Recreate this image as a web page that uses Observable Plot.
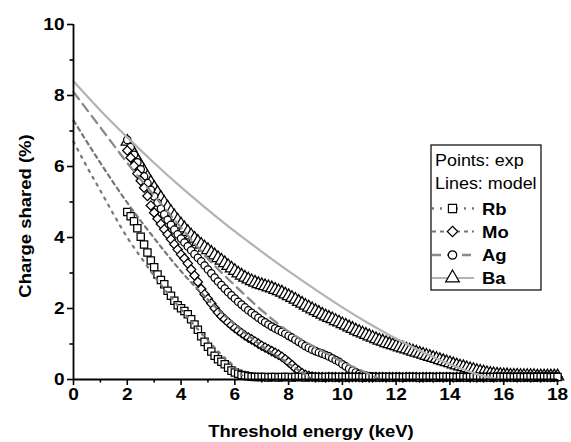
<!DOCTYPE html>
<html><head><meta charset="utf-8">
<script src="https://cdn.jsdelivr.net/npm/d3@7"></script>
<script src="https://cdn.jsdelivr.net/npm/@observablehq/plot@0.6"></script>
<style>
html,body{margin:0;padding:0;background:#fff;}
#chart{position:relative;width:571px;height:442px;font-family:"Liberation Sans",Arial,sans-serif;}
#chart svg.legend{position:absolute;left:0;top:0;pointer-events:none;}
</style></head><body><div id="chart"></div>
<script>
// Experimental threshold scan (keV)
const thresholdEnergy = [
  2,2.125,2.25,2.375,2.5,2.625,2.75,2.875,
  3,3.125,3.25,3.375,3.5,3.625,3.75,3.875,
  4,4.125,4.25,4.375,4.5,4.625,4.75,4.875,
  5,5.125,5.25,5.375,5.5,5.625,5.75,5.875,
  6,6.125,6.25,6.375,6.5,6.625,6.75,6.875,
  7,7.125,7.25,7.375,7.5,7.625,7.75,7.875,
  8,8.125,8.25,8.375,8.5,8.625,8.75,8.875,
  9,9.125,9.25,9.375,9.5,9.625,9.75,9.875,
  10,10.125,10.25,10.375,10.5,10.625,10.75,10.875,
  11,11.125,11.25,11.375,11.5,11.625,11.75,11.875,
  12,12.125,12.25,12.375,12.5,12.625,12.75,12.875,
  13,13.125,13.25,13.375,13.5,13.625,13.75,13.875,
  14,14.125,14.25,14.375,14.5,14.625,14.75,14.875,
  15,15.125,15.25,15.375,15.5,15.625,15.75,15.875,
  16,16.125,16.25,16.375,16.5,16.625,16.75,16.875,
  17,17.125,17.25,17.375,17.5,17.625,17.75,17.875,
  18
];
// Experimental charge shared (%)
const rbExp = [
  4.72,4.60,4.46,4.26,4.02,3.80,3.58,3.35,
  3.16,2.96,2.80,2.68,2.50,2.36,2.22,2.09,
  2.01,1.93,1.84,1.70,1.55,1.40,1.22,1.06,
  0.92,0.79,0.67,0.57,0.50,0.43,0.33,0.25,
  0.20,0.16,0.13,0.11,0.09,0.08,0.07,0.07,
  0.07,0.07,0.06,0.07,0.07,0.06,0.07,0.07,
  0.07,0.06,0.07,0.07,0.07,0.06,0.07,0.07,
  0.07,0.07,0.06,0.07,0.07,0.07,0.06,0.07,
  0.07,0.06,0.07,0.07,0.07,0.07,0.06,0.07,
  0.07,0.07,0.07,0.06,0.07,0.07,0.07,0.06,
  0.07,0.07,0.06,0.07,0.07,0.07,0.07,0.06,
  0.07,0.06,0.07,0.07,0.06,0.07,0.07,0.07,
  0.07,0.07,0.06,0.07,0.07,0.06,0.07,0.07,
  0.06,0.07,0.07,0.07,0.06,0.07,0.07,0.07,
  0.07,0.07,0.07,0.06,0.07,0.07,0.06,0.07,
  0.07,0.06,0.07,0.07,0.07,0.07,0.06,0.07,
  0.07
];
const moExp = [
  6.45,6.25,6.02,5.80,5.60,5.40,5.17,4.90,
  4.70,4.53,4.38,4.23,4.09,3.95,3.81,3.66,
  3.52,3.41,3.27,3.10,2.93,2.75,2.55,2.40,
  2.27,2.14,2.01,1.89,1.78,1.70,1.61,1.53,
  1.45,1.38,1.31,1.24,1.18,1.13,1.07,1.01,
  0.95,0.90,0.85,0.80,0.75,0.70,0.64,0.57,
  0.49,0.41,0.32,0.25,0.18,0.13,0.10,0.08,
  0.07,0.07,0.07,0.06,0.07,0.07,0.07,0.06,
  0.07,0.07,0.06,0.07,0.07,0.07,0.06,0.07,
  0.07,0.06,0.07,0.07,0.07,0.06,0.07,0.07,
  0.07,0.07,0.06,0.07,0.07,0.07,0.07,0.06,
  0.07,0.07,0.07,0.06,0.07,0.07,0.06,0.07,
  0.07,0.06,0.07,0.07,0.07,0.07,0.06,0.07,
  0.07,0.07,0.06,0.07,0.07,0.06,0.07,0.07,
  0.06,0.07,0.07,0.07,0.06,0.07,0.07,0.07,
  0.07,0.07,0.07,0.06,0.07,0.07,0.07,0.07,
  0.07
];
const agExp = [
  6.75,6.55,6.33,6.12,5.92,5.72,5.53,5.34,
  5.16,4.98,4.81,4.65,4.50,4.36,4.22,4.09,
  3.97,3.86,3.75,3.64,3.53,3.43,3.33,3.21,
  3.10,2.99,2.87,2.76,2.66,2.56,2.46,2.37,
  2.28,2.19,2.11,2.03,1.95,1.88,1.81,1.74,
  1.67,1.61,1.55,1.49,1.44,1.39,1.34,1.29,
  1.23,1.18,1.12,1.06,1.00,0.94,0.89,0.84,
  0.80,0.76,0.73,0.69,0.65,0.60,0.55,0.50,
  0.43,0.37,0.30,0.25,0.20,0.16,0.13,0.11,
  0.09,0.08,0.07,0.07,0.07,0.07,0.07,0.07,
  0.07,0.07,0.06,0.07,0.07,0.07,0.06,0.07,
  0.07,0.06,0.07,0.07,0.07,0.07,0.07,0.06,
  0.07,0.07,0.07,0.06,0.07,0.07,0.07,0.07,
  0.07,0.07,0.06,0.07,0.07,0.06,0.07,0.07,
  0.07,0.07,0.07,0.07,0.06,0.07,0.07,0.07,
  0.07,0.06,0.07,0.07,0.07,0.07,0.07,0.07,
  0.07
];
const baExp = [
  6.70,6.52,6.35,6.18,6.02,5.86,5.70,5.55,
  5.40,5.26,5.12,4.98,4.85,4.72,4.60,4.48,
  4.37,4.26,4.16,4.06,3.97,3.88,3.80,3.72,
  3.65,3.57,3.50,3.42,3.35,3.28,3.20,3.13,
  3.06,2.99,2.93,2.87,2.82,2.77,2.73,2.69,
  2.66,2.63,2.60,2.57,2.53,2.49,2.45,2.40,
  2.35,2.30,2.25,2.19,2.14,2.08,2.03,1.98,
  1.93,1.88,1.83,1.78,1.74,1.70,1.65,1.61,
  1.56,1.52,1.47,1.43,1.38,1.34,1.30,1.26,
  1.22,1.18,1.14,1.10,1.07,1.03,1.00,0.97,
  0.94,0.91,0.88,0.85,0.82,0.79,0.76,0.73,
  0.70,0.67,0.64,0.61,0.58,0.55,0.52,0.49,
  0.46,0.43,0.40,0.37,0.35,0.32,0.29,0.27,
  0.24,0.22,0.20,0.18,0.16,0.15,0.14,0.13,
  0.12,0.12,0.11,0.11,0.11,0.10,0.10,0.10,
  0.10,0.10,0.09,0.09,0.09,0.09,0.09,0.09,
  0.09
];
// Model curves
const rbModelEnergy = [0,0.5,1,1.5,2,2.5,3,3.5,4,4.5,5,5.5,6,6.4];
const rbModel      = [6.7,5.99,5.32,4.64,4.0,3.45,2.92,2.43,1.98,1.52,1.1,0.7,0.35,0];
const moModelEnergy = [0,1,2,3,4,5,6,7,8,8.5,8.9];
const moModel      = [7.3,6.1,4.98,3.98,3.05,2.25,1.55,0.95,0.45,0.2,0];
const agModelEnergy = [0,1,2,3,4,5,6,7,8,9,10,11,11.4];
const agModel      = [8.1,7.1,6.1,5.18,4.28,3.4,2.65,1.95,1.35,0.9,0.5,0.15,0];
const baModelEnergy = [0,1,2,3,4,5,6,7,8,9,10,11,12,13,14,15,15.8];
const baModel      = [8.4,7.58,6.82,6.1,5.42,4.78,4.17,3.6,3.05,2.53,2.03,1.57,1.15,0.77,0.43,0.15,0];

const xTicks = [0,2,4,6,8,10,12,14,16,18];
const xMinorTicks = [1,3,5,7,9,11,13,15,17];
const yTicks = [0,2,4,6,8,10];
const yMinorTicks = [1,3,5,7,9];
const seriesNames = ["Rb","Mo","Ag","Ba"];

const series = [
  {name:"Rb", exp:rbExp, mE:rbModelEnergy, m:rbModel, symbol:"square", d3sym:d3.symbolSquare, r:4.1, color:"#7a7a7a", width:2.3, dash:"2,6"},
  {name:"Mo", exp:moExp, mE:moModelEnergy, m:moModel, symbol:"diamond2", d3sym:d3.symbolDiamond2, r:4.2, color:"#777777", width:2.2, dash:"4,4"},
  {name:"Ag", exp:agExp, mE:agModelEnergy, m:agModel, symbol:"circle", d3sym:d3.symbolCircle, r:3.7, color:"#8a8a8a", width:2.3, dash:"9,6"},
  {name:"Ba", exp:baExp, mE:baModelEnergy, m:baModel, symbol:"triangle", d3sym:d3.symbolTriangle, r:4.6, color:"#b3b3b3", width:2.2, dash:null}
];

const expRows = s => s.exp.map((v,i) => ({E: thresholdEnergy[i], v}));
const modelRows = s => s.m.map((v,i) => ({E: s.mE[i], v}));

const pointMarks = ["Ba","Ag","Mo","Rb"].map(n => {
  const s = series.find(d => d.name === n);
  return Plot.dot(expRows(s), {x:"E", y:"v", symbol: s.symbol, r: s.r, fill:"white", stroke:"black", strokeWidth:1.25});
});
const lineMarks = series.map(s => Plot.line(modelRows(s), {
  x:"E", y:"v", stroke:s.color, strokeWidth:s.width, curve:"monotone-x",
  ...(s.dash ? {strokeDasharray:s.dash} : {})
}));

const plot = Plot.plot({
  width: 571, height: 442,
  marginLeft: 73, marginRight: 14, marginTop: 24, marginBottom: 63,
  x: {domain:[0,18]},
  y: {domain:[0,10]},
  style: {fontFamily:'"Liberation Sans", Arial, sans-serif', fontSize:"17px", fontWeight:"bold", background:"white", overflow:"visible"},
  marks: [
    ...pointMarks,
    ...lineMarks,
    Plot.ruleX([0], {strokeWidth:1.8}),
    Plot.ruleY([0], {strokeWidth:1.8}),
    Plot.axisX({ticks:xTicks, tickSize:6, tickPadding:2, strokeWidth:1.6, label:null, fontSize:17, fontWeight:"bold"}),
    Plot.axisX({ticks:xMinorTicks, tickSize:3.5, strokeWidth:1.6, text:null, label:null}),
    Plot.axisY({ticks:yTicks, tickSize:6, tickPadding:3, strokeWidth:1.6, label:null, fontSize:17, fontWeight:"bold"}),
    Plot.axisY({ticks:yMinorTicks, tickSize:3.5, strokeWidth:1.6, text:null, label:null})
  ]
});

const chart = document.getElementById("chart");
chart.appendChild(plot);

const svg = d3.select(plot);
svg.append("text").attr("x", 311).attr("y", 437).attr("text-anchor","middle")
  .style("font-size","16.5px").style("font-weight","bold").text("Threshold energy (keV)");
svg.append("text").attr("transform","translate(31,216) rotate(-90)").attr("text-anchor","middle")
  .style("font-size","16.5px").style("font-weight","bold").text("Charge shared (%)");

// Legend overlay
const lg = d3.select(chart).append("svg").attr("class","legend").attr("width",571).attr("height",442)
  .style("font-family",'"Liberation Sans", Arial, sans-serif');
lg.append("rect").attr("x",431).attr("y",145).attr("width",110).attr("height",145)
  .attr("fill","white").attr("stroke","black").attr("stroke-width",1.2);
lg.append("text").attr("x",435).attr("y",166).style("font-size","16px").text("Points: exp");
lg.append("text").attr("x",435).attr("y",188.5).style("font-size","16px").text("Lines: model");
const rowY = [208.5, 231.5, 255, 278];
series.forEach((s,i) => {
  const y = rowY[i];
  lg.append("line").attr("x1",432).attr("x2",474).attr("y1",y).attr("y2",y)
    .attr("stroke",s.color).attr("stroke-width",s.width).attr("stroke-dasharray",s.dash);
  lg.append("path").attr("d", d3.symbol(s.d3sym, Math.PI*(s.r+0.5)*(s.r+0.5))())
    .attr("transform",`translate(452.5,${y})`).attr("fill","white").attr("stroke","black").attr("stroke-width",1.2);
  lg.append("text").attr("x",482).attr("y",y+6).style("font-size","16.5px").style("font-weight","bold").text(s.name);
});

// widen glyphs slightly to match reference typeface
d3.select(chart).selectAll("text").each(function(){
  const L = this.getComputedTextLength();
  if (L > 0) { this.setAttribute("textLength", L*1.12); this.setAttribute("lengthAdjust","spacingAndGlyphs"); }
});
</script></body></html>
